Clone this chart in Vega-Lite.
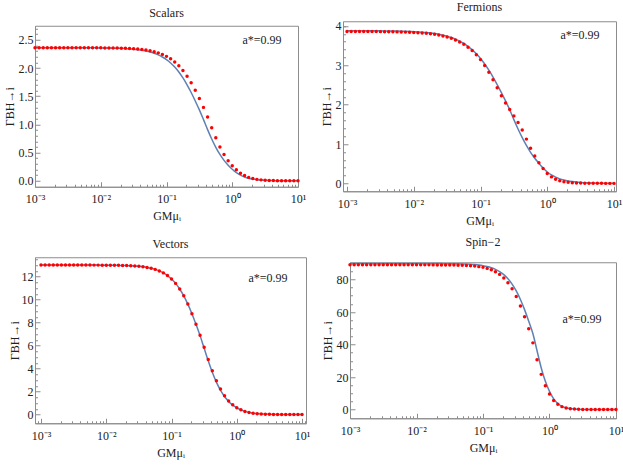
{
"$schema": "https://vega.github.io/schema/vega-lite/v6.json",
"padding": {"left": 2, "top": 0, "right": 2, "bottom": 2},
"config": {
 "font": "Liberation Serif",
 "view": {"stroke": "#8c8c8c", "strokeWidth": 1},
 "axis": {"labelFont": "Liberation Serif", "labelFontSize": 12, "titleFont": "Liberation Serif", "titleFontSize": 12, "titleFontWeight": "normal", "domainColor": "#8c8c8c", "tickColor": "#8c8c8c", "labelColor": "#222222", "titleColor": "#222222", "grid": false, "labelFlush": false, "labelOverlap": false, "labelBound": false, "tickSize": -5},
 "axisX": {"labelPadding": 12, "titlePadding": 6},
 "axisY": {"labelPadding": 7, "titlePadding": 2},
 "title": {"font": "Liberation Serif", "fontSize": 12, "fontWeight": "normal", "color": "#222222", "offset": 6}
},
"data": {"values": [
{"x":0.001,"s":2.36,"sd":2.36,"f":3.879,"fd":3.859,"v":13,"vd":13,"t":89.8,"td":89},
{"x":0.001155,"s":2.36,"sd":2.36,"f":3.879,"fd":3.859,"v":13,"vd":13,"t":89.8,"td":89},
{"x":0.001334,"s":2.36,"sd":2.36,"f":3.879,"fd":3.859,"v":13,"vd":13,"t":89.8,"td":89},
{"x":0.00154,"s":2.36,"sd":2.36,"f":3.878,"fd":3.858,"v":13,"vd":13,"t":89.8,"td":89},
{"x":0.001778,"s":2.36,"sd":2.36,"f":3.878,"fd":3.858,"v":13,"vd":13,"t":89.8,"td":89},
{"x":0.002054,"s":2.36,"sd":2.36,"f":3.878,"fd":3.858,"v":13,"vd":13,"t":89.8,"td":89},
{"x":0.002371,"s":2.36,"sd":2.36,"f":3.877,"fd":3.857,"v":13,"vd":13,"t":89.8,"td":89},
{"x":0.002738,"s":2.36,"sd":2.36,"f":3.877,"fd":3.857,"v":13,"vd":13,"t":89.8,"td":89},
{"x":0.003162,"s":2.36,"sd":2.36,"f":3.876,"fd":3.856,"v":13,"vd":13,"t":89.8,"td":89},
{"x":0.003652,"s":2.36,"sd":2.36,"f":3.875,"fd":3.855,"v":13,"vd":13,"t":89.8,"td":89},
{"x":0.004217,"s":2.36,"sd":2.36,"f":3.874,"fd":3.854,"v":13,"vd":13,"t":89.8,"td":89},
{"x":0.00487,"s":2.36,"sd":2.36,"f":3.872,"fd":3.852,"v":13,"vd":13,"t":89.8,"td":89},
{"x":0.005623,"s":2.36,"sd":2.36,"f":3.870,"fd":3.850,"v":12.997,"vd":12.997,"t":89.8,"td":89},
{"x":0.006494,"s":2.359,"sd":2.36,"f":3.868,"fd":3.848,"v":12.996,"vd":12.996,"t":89.8,"td":89},
{"x":0.007499,"s":2.359,"sd":2.36,"f":3.864,"fd":3.844,"v":12.995,"vd":12.995,"t":89.8,"td":89},
{"x":0.00866,"s":2.358,"sd":2.359,"f":3.860,"fd":3.840,"v":12.993,"vd":12.993,"t":89.8,"td":89},
{"x":0.01,"s":2.357,"sd":2.358,"f":3.856,"fd":3.836,"v":12.99,"vd":12.99,"t":89.8,"td":89},
{"x":0.01155,"s":2.356,"sd":2.357,"f":3.850,"fd":3.830,"v":12.987,"vd":12.987,"t":89.79,"td":88.99},
{"x":0.01334,"s":2.355,"sd":2.356,"f":3.842,"fd":3.822,"v":12.982,"vd":12.982,"t":89.79,"td":88.99},
{"x":0.0154,"s":2.353,"sd":2.355,"f":3.833,"fd":3.813,"v":12.976,"vd":12.976,"t":89.79,"td":88.99},
{"x":0.01778,"s":2.351,"sd":2.354,"f":3.821,"fd":3.801,"v":12.968,"vd":12.968,"t":89.78,"td":88.98},
{"x":0.02054,"s":2.349,"sd":2.352,"f":3.807,"fd":3.787,"v":12.956,"vd":12.956,"t":89.77,"td":88.97},
{"x":0.02371,"s":2.345,"sd":2.35,"f":3.789,"fd":3.769,"v":12.94,"vd":12.94,"t":89.76,"td":88.96},
{"x":0.02738,"s":2.34,"sd":2.346,"f":3.767,"fd":3.747,"v":12.918,"vd":12.918,"t":89.74,"td":88.93},
{"x":0.03162,"s":2.334,"sd":2.342,"f":3.740,"fd":3.720,"v":12.889,"vd":12.889,"t":89.72,"td":88.9},
{"x":0.03652,"s":2.326,"sd":2.336,"f":3.706,"fd":3.686,"v":12.849,"vd":12.849,"t":89.68,"td":88.86},
{"x":0.04217,"s":2.316,"sd":2.329,"f":3.665,"fd":3.645,"v":12.795,"vd":12.795,"t":89.64,"td":88.8},
{"x":0.0487,"s":2.302,"sd":2.319,"f":3.615,"fd":3.595,"v":12.722,"vd":12.722,"t":89.57,"td":88.72},
{"x":0.05623,"s":2.285,"sd":2.306,"f":3.555,"fd":3.535,"v":12.624,"vd":12.624,"t":89.47,"td":88.61},
{"x":0.06494,"s":2.262,"sd":2.29,"f":3.482,"fd":3.462,"v":12.493,"vd":12.493,"t":89.34,"td":88.44},
{"x":0.07499,"s":2.233,"sd":2.269,"f":3.395,"fd":3.375,"v":12.32,"vd":12.32,"t":89.15,"td":88.22},
{"x":0.0866,"s":2.196,"sd":2.242,"f":3.292,"fd":3.27,"v":12.09,"vd":12.09,"t":88.88,"td":87.9},
{"x":0.1,"s":2.149,"sd":2.207,"f":3.172,"fd":3.145,"v":11.79,"vd":11.79,"t":88.51,"td":87.45},
{"x":0.1155,"s":2.09,"sd":2.163,"f":3.033,"fd":2.995,"v":11.406,"vd":11.406,"t":87.99,"td":86.83},
{"x":0.1334,"s":2.017,"sd":2.108,"f":2.876,"fd":2.825,"v":10.92,"vd":10.92,"t":87.26,"td":85.97},
{"x":0.154,"s":1.929,"sd":2.039,"f":2.702,"fd":2.635,"v":10.322,"vd":10.322,"t":86.25,"td":84.77},
{"x":0.1778,"s":1.824,"sd":1.955,"f":2.511,"fd":2.43,"v":9.605,"vd":9.605,"t":84.87,"td":83.14},
{"x":0.2054,"s":1.702,"sd":1.855,"f":2.308,"fd":2.225,"v":8.773,"vd":8.773,"t":82.99,"td":80.94},
{"x":0.2371,"s":1.566,"sd":1.738,"f":2.096,"fd":2.04,"v":7.847,"vd":7.86,"t":80.47,"td":78.03},
{"x":0.2738,"s":1.416,"sd":1.605,"f":1.87,"fd":1.875,"v":6.862,"vd":6.9,"t":77.17,"td":74.25},
{"x":0.3162,"s":1.257,"sd":1.459,"f":1.621,"fd":1.715,"v":5.77,"vd":5.85,"t":72.94,"td":69.5},
{"x":0.3652,"s":1.085,"sd":1.302,"f":1.383,"fd":1.545,"v":4.671,"vd":4.78,"t":67.69,"td":63.74},
{"x":0.4217,"s":0.908,"sd":1.133,"f":1.162,"fd":1.355,"v":3.675,"vd":3.8,"t":61.45,"td":57.06},
{"x":0.487,"s":0.742,"sd":0.941,"f":0.963,"fd":1.125,"v":2.821,"vd":2.93,"t":54.37,"td":49.7},
{"x":0.5623,"s":0.594,"sd":0.762,"f":0.788,"fd":0.895,"v":2.119,"vd":2.21,"t":46.77,"td":41.02},
{"x":0.6494,"s":0.467,"sd":0.601,"f":0.637,"fd":0.695,"v":1.565,"vd":1.63,"t":36.17,"td":30.61},
{"x":0.7499,"s":0.362,"sd":0.465,"f":0.511,"fd":0.525,"v":1.141,"vd":1.18,"t":25.74,"td":21.64},
{"x":0.866,"s":0.277,"sd":0.354,"f":0.39,"fd":0.38,"v":0.823,"vd":0.84,"t":17.34,"td":14.65},
{"x":1,"s":0.205,"sd":0.265,"f":0.29,"fd":0.25,"v":0.59,"vd":0.59,"t":11.2,"td":9.59},
{"x":1.155,"s":0.145,"sd":0.195,"f":0.215,"fd":0.165,"v":0.415,"vd":0.41,"t":6.6,"td":5.6},
{"x":1.334,"s":0.1,"sd":0.135,"f":0.158,"fd":0.105,"v":0.27,"vd":0.27,"t":3.7,"td":3.2},
{"x":1.54,"s":0.068,"sd":0.092,"f":0.115,"fd":0.068,"v":0.18,"vd":0.17,"t":2,"td":1.8},
{"x":1.778,"s":0.045,"sd":0.06,"f":0.084,"fd":0.043,"v":0.12,"vd":0.11,"t":1.1,"td":1},
{"x":2.054,"s":0.03,"sd":0.04,"f":0.061,"fd":0.027,"v":0.08,"vd":0.07,"t":0.6,"td":0.55},
{"x":2.371,"s":0.019,"sd":0.025,"f":0.045,"fd":0.017,"v":0.055,"vd":0.045,"t":0.3,"td":0.3},
{"x":2.738,"s":0.012,"sd":0.016,"f":0.033,"fd":0.011,"v":0.035,"vd":0.028,"t":0.15,"td":0.16},
{"x":3.162,"s":0.008,"sd":0.01,"f":0.024,"fd":0.007,"v":0.022,"vd":0.017,"t":0.08,"td":0.08},
{"x":3.652,"s":0.005,"sd":0.006,"f":0.017,"fd":0.005,"v":0.014,"vd":0.01,"t":0.04,"td":0.04},
{"x":4.217,"s":0.003,"sd":0.004,"f":0.012,"fd":0.003,"v":0.009,"vd":0.006,"t":0.02,"td":0.02},
{"x":4.87,"s":0.002,"sd":0.002,"f":0.009,"fd":0.002,"v":0.006,"vd":0.004,"t":0.01,"td":0.01},
{"x":5.623,"s":0.001,"sd":0.001,"f":0.006,"fd":0.001,"v":0.004,"vd":0.002,"t":0,"td":0},
{"x":6.494,"s":0.001,"sd":0,"f":0.005,"fd":0.001,"v":0.002,"vd":0.001,"t":0,"td":0},
{"x":7.499,"s":0,"sd":0,"f":0.003,"fd":0,"v":0.001,"vd":0,"t":0,"td":0},
{"x":8.66,"s":0,"sd":0,"f":0.002,"fd":0,"v":0,"vd":0,"t":0,"td":0},
{"x":10,"s":0,"sd":0,"f":0.002,"fd":0,"v":0,"vd":0,"t":0,"td":0}
]},
"spacing": 8,
"vconcat": [
{"hconcat": [
 {"title": "Scalars", "width": 263, "height": 161,
  "resolve": {"axis": {"x": "independent", "y": "independent"}},
  "layer": [
   {"mark": {"type": "line", "color": "#5E81B5", "strokeWidth": 1.5, "interpolate": "monotone"},
    "encoding": {
     "x": {"field": "x", "type": "quantitative", "scale": {"type": "log", "domain": [0.001, 10], "nice": false},
       "axis": {"title": "GMμᵢ", "values": [0.001,0.01,0.1,1,10],
        "labelExpr": "'10' + ['⁻³','⁻²','⁻¹','⁰','¹'][round(log(datum.value)/LN10) + 3]"}},
     "y": {"field": "s", "type": "quantitative", "scale": {"domain": [-0.106, 2.75], "nice": false, "zero": false},
       "axis": {"title": "ΓBH→i", "values": [0,0.5,1,1.5,2,2.5], "format": ".1f"}}
    }},
   {"mark": {"type": "circle", "color": "#ff0000", "size": 12, "opacity": 1},
    "encoding": {
     "x": {"field": "x", "type": "quantitative", "axis": {"orient": "bottom", "title": null, "labels": false, "domain": false, "tickSize": -2.5, "values": [0.002,0.003,0.004,0.005,0.006,0.007,0.008,0.009,0.02,0.03,0.04,0.05,0.06,0.07,0.08,0.09,0.2,0.3,0.4,0.5,0.6,0.7,0.8,0.9,2,3,4,5,6,7,8,9]}},
     "y": {"field": "sd", "type": "quantitative", "axis": {"orient": "left", "title": null, "labels": false, "domain": false, "tickSize": -2.5, "values": [0.1,0.2,0.3,0.4,0.6,0.7,0.8,0.9,1.1,1.2,1.3,1.4,1.6,1.7,1.8,1.9,2.1,2.2,2.3,2.4,2.6,2.7]}}}},
   {"data": {"values": [{}]},
    "mark": {"type": "text", "fontSize": 12, "color": "#222222"},
    "encoding": {"x": {"datum": 2.83, "axis": null}, "y": {"datum": 2.49, "axis": null}, "text": {"value": "a*=0.99"}}}
  ]},
 {"title": "Fermions", "width": 273, "height": 170,
  "resolve": {"axis": {"x": "independent", "y": "independent"}},
  "layer": [
   {"mark": {"type": "line", "color": "#5E81B5", "strokeWidth": 1.5, "interpolate": "monotone"},
    "encoding": {
     "x": {"field": "x", "type": "quantitative", "scale": {"type": "log", "domain": [0.000871, 10.71], "nice": false},
       "axis": {"title": "GMμᵢ", "values": [0.001,0.01,0.1,1,10],
        "labelExpr": "'10' + ['⁻³','⁻²','⁻¹','⁰','¹'][round(log(datum.value)/LN10) + 3]"}},
     "y": {"field": "f", "type": "quantitative", "scale": {"domain": [-0.2, 4.12], "nice": false, "zero": false},
       "axis": {"title": "ΓBH→i", "values": [0,1,2,3,4], "format": "d"}}
    }},
   {"mark": {"type": "circle", "color": "#ff0000", "size": 12, "opacity": 1},
    "encoding": {
     "x": {"field": "x", "type": "quantitative", "axis": {"orient": "bottom", "title": null, "labels": false, "domain": false, "tickSize": -2.5, "values": [0.002,0.003,0.004,0.005,0.006,0.007,0.008,0.009,0.02,0.03,0.04,0.05,0.06,0.07,0.08,0.09,0.2,0.3,0.4,0.5,0.6,0.7,0.8,0.9,2,3,4,5,6,7,8,9]}},
     "y": {"field": "fd", "type": "quantitative", "axis": {"orient": "left", "title": null, "labels": false, "domain": false, "tickSize": -2.5, "values": [0.2,0.4,0.6,0.8,1.2,1.4,1.6,1.8,2.2,2.4,2.6,2.8,3.2,3.4,3.6,3.8,4.0]}}}},
   {"data": {"values": [{}]},
    "mark": {"type": "text", "fontSize": 12, "color": "#222222"},
    "encoding": {"x": {"datum": 3.09, "axis": null}, "y": {"datum": 3.78, "axis": null}, "text": {"value": "a*=0.99"}}}
  ]}
], "spacing": 12, "center": true},
{"hconcat": [
 {"title": "Vectors", "width": 271, "height": 166,
  "resolve": {"axis": {"x": "independent", "y": "independent"}},
  "layer": [
   {"mark": {"type": "line", "color": "#5E81B5", "strokeWidth": 1.5, "interpolate": "monotone"},
    "encoding": {
     "x": {"field": "x", "type": "quantitative", "scale": {"type": "log", "domain": [0.000809, 11.5], "nice": false},
       "axis": {"title": "GMμᵢ", "values": [0.001,0.01,0.1,1,10],
        "labelExpr": "'10' + ['⁻³','⁻²','⁻¹','⁰','¹'][round(log(datum.value)/LN10) + 3]"}},
     "y": {"field": "v", "type": "quantitative", "scale": {"domain": [-0.76, 13.68], "nice": false, "zero": false},
       "axis": {"title": "ΓBH→i", "titlePadding": 0, "values": [0,2,4,6,8,10,12], "format": "d"}}
    }},
   {"mark": {"type": "circle", "color": "#ff0000", "size": 12, "opacity": 1},
    "encoding": {
     "x": {"field": "x", "type": "quantitative", "axis": {"orient": "bottom", "title": null, "labels": false, "domain": false, "tickSize": -2.5, "values": [0.0009,0.002,0.003,0.004,0.005,0.006,0.007,0.008,0.009,0.02,0.03,0.04,0.05,0.06,0.07,0.08,0.09,0.2,0.3,0.4,0.5,0.6,0.7,0.8,0.9,2,3,4,5,6,7,8,9,11]}},
     "y": {"field": "vd", "type": "quantitative", "axis": {"orient": "left", "title": null, "labels": false, "domain": false, "tickSize": -2.5, "values": [0.5,1,1.5,2.5,3,3.5,4.5,5,5.5,6.5,7,7.5,8.5,9,9.5,10.5,11,11.5,12.5,13,13.5]}}}},
   {"data": {"values": [{}]},
    "mark": {"type": "text", "fontSize": 12, "color": "#222222"},
    "encoding": {"x": {"datum": 3.01, "axis": null}, "y": {"datum": 11.85, "axis": null}, "text": {"value": "a*=0.99"}}}
  ]},
 {"title": {"text": "Spin−2", "offset": 12}, "width": 266, "height": 156,
  "resolve": {"axis": {"x": "independent", "y": "independent"}},
  "layer": [
   {"mark": {"type": "line", "color": "#5E81B5", "strokeWidth": 1.5, "interpolate": "monotone"},
    "encoding": {
     "x": {"field": "x", "type": "quantitative", "scale": {"type": "log", "domain": [0.001, 10], "nice": false},
       "axis": {"title": "GMμᵢ", "values": [0.001,0.01,0.1,1,10],
        "labelExpr": "'10' + ['⁻³','⁻²','⁻¹','⁰','¹'][round(log(datum.value)/LN10) + 3]"}},
     "y": {"field": "t", "type": "quantitative", "scale": {"domain": [-5.35, 90.6], "nice": false, "zero": false},
       "axis": {"title": "ΓBH→i", "values": [0,20,40,60,80], "format": "d"}}
    }},
   {"mark": {"type": "circle", "color": "#ff0000", "size": 12, "opacity": 1},
    "encoding": {
     "x": {"field": "x", "type": "quantitative", "axis": {"orient": "bottom", "title": null, "labels": false, "domain": false, "tickSize": -2.5, "values": [0.002,0.003,0.004,0.005,0.006,0.007,0.008,0.009,0.02,0.03,0.04,0.05,0.06,0.07,0.08,0.09,0.2,0.3,0.4,0.5,0.6,0.7,0.8,0.9,2,3,4,5,6,7,8,9]}},
     "y": {"field": "td", "type": "quantitative", "axis": {"orient": "left", "title": null, "labels": false, "domain": false, "tickSize": -2.5, "values": [5,10,15,25,30,35,45,50,55,65,70,75,85,90]}}}},
   {"data": {"values": [{}]},
    "mark": {"type": "text", "fontSize": 12, "color": "#222222"},
    "encoding": {"x": {"datum": 3.08, "axis": null}, "y": {"datum": 56, "axis": null}, "text": {"value": "a*=0.99"}}}
  ]}
], "spacing": 9, "center": true}
]
}
